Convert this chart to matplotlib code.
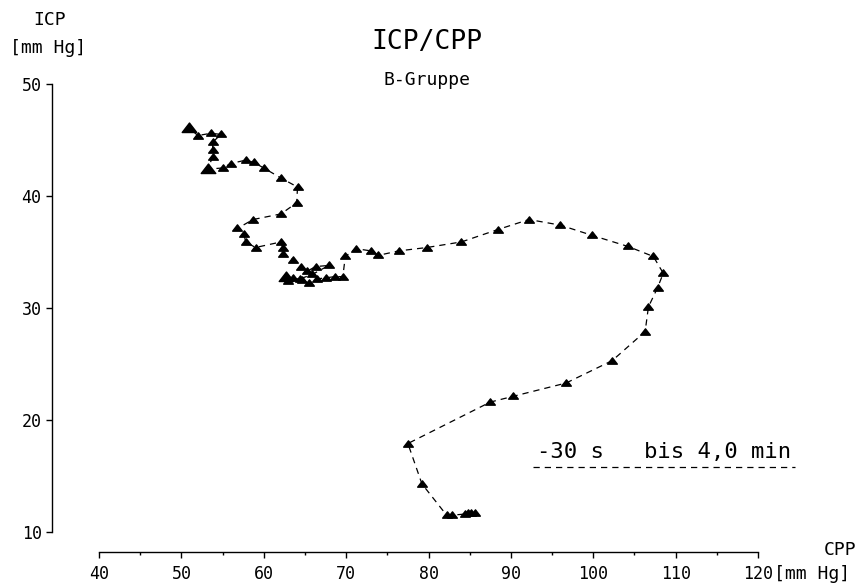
import numpy as np
import matplotlib
matplotlib.use("Agg")
import matplotlib.pyplot as plt
from matplotlib.path import Path

# Trajektorie ICP gegen CPP (B-Gruppe), Punkte in Reihenfolge
cpp = [85.6, 85.2, 84.8, 84.4, 82.8, 82.2, 79.2, 77.5, 87.5, 90.2,
       96.7, 102.3, 106.3, 106.7, 107.8, 108.5, 107.3, 104.2, 99.8, 96.0,
       92.2, 88.4, 84.0, 79.8, 76.4, 73.9, 73.0, 71.2, 69.9, 69.6,
       68.6, 67.6, 66.5, 65.5, 64.7, 63.5, 62.7, 63.0, 64.4, 65.9,
       67.9, 66.3, 65.3, 64.5, 63.6, 62.3, 62.3, 62.1, 59.0, 57.8,
       57.6, 56.8, 58.7, 62.1, 64.0, 64.1, 62.1, 60.0, 58.8, 57.8,
       56.0, 55.0, 53.2, 53.8, 53.8, 53.8, 54.8, 53.6, 52.0, 50.9]
icp = [11.7, 11.7, 11.7, 11.6, 11.5, 11.5, 14.3, 17.9, 21.6, 22.1,
       23.3, 25.3, 27.9, 30.1, 31.8, 33.1, 34.6, 35.5, 36.5, 37.4,
       37.9, 37.0, 35.9, 35.4, 35.1, 34.7, 35.1, 35.3, 34.6, 32.8,
       32.8, 32.7, 32.6, 32.2, 32.5, 32.7, 32.8, 32.4, 32.6, 33.0,
       33.8, 33.7, 33.3, 33.7, 34.3, 34.8, 35.4, 35.9, 35.4, 35.9,
       36.6, 37.1, 37.9, 38.4, 39.4, 40.8, 41.6, 42.5, 43.0, 43.2,
       42.9, 42.5, 42.4, 43.5, 44.1, 44.8, 45.5, 45.6, 45.4, 46.1]
big = [36, 62, 69]  # grosse Dreiecke (ueberlagerte Punkte)

xticks = [40, 50, 60, 70, 80, 90, 100, 110, 120]
yticks = [10, 20, 30, 40, 50]

W, H = 860, 585
mono = "DejaVu Sans Mono"
plt.rcParams["font.family"] = mono

fig = plt.figure(figsize=(W / 100, H / 100), dpi=100)
ax = fig.add_axes([99 / W, 1 - 532 / H, (758 - 99) / W, (532 - 84) / H])
ax.set_xlim(40, 120)
ax.set_ylim(10, 50)

tri = Path([(-1.0, -0.55), (1.0, -0.55), (0.0, 0.75), (-1.0, -0.55)],
           [Path.MOVETO, Path.LINETO, Path.LINETO, Path.CLOSEPOLY])

ax.plot(cpp, icp, color="black", lw=0.9, ls=(0, (5, 4)), zorder=2)
ax.plot(cpp, icp, ls="none", marker=tri, ms=7, color="black", zorder=3)
ax.plot([cpp[i] for i in big], [icp[i] for i in big], ls="none",
        marker=tri, ms=10.5, color="black", zorder=3)

for s in ["top", "right"]:
    ax.spines[s].set_visible(False)
ax.spines["left"].set_position(("outward", 47 * 0.72))
ax.spines["bottom"].set_position(("outward", 20 * 0.72))
for s in ["left", "bottom"]:
    ax.spines[s].set_linewidth(1.0)

ax.set_xticks(xticks)
ax.set_xticks(np.arange(45, 120, 10), minor=True)
ax.set_yticks(yticks)
ax.tick_params(axis="x", which="major", direction="out", length=4.5, width=1.0,
               labelsize=12, pad=5)
ax.tick_params(axis="x", which="minor", direction="out", length=2.5, width=1.0)
ax.tick_params(axis="y", which="major", direction="out", length=4.5, width=1.0,
               labelsize=12, pad=3)

def px(x, y, s, size, **kw):
    fig.text(x / W, 1 - y / H, s, fontsize=size, ha="center", va="center",
             family=mono, **kw)

px(427, 42, "ICP/CPP", 19)
px(427, 80, "B-Gruppe", 13)
px(50, 20, "ICP", 13)
px(48, 48, "[mm Hg]", 13)
px(840, 550, "CPP", 13)
px(812, 574, "[mm Hg]", 13)
px(664, 452, "-30 s   bis 4,0 min", 16)
fig.add_artist(plt.Line2D([533 / W, 795 / W], [1 - 467 / H, 1 - 467 / H],
                          color="black", lw=0.9, ls=(0, (5, 4))))

fig.savefig("out.png", dpi=100)
